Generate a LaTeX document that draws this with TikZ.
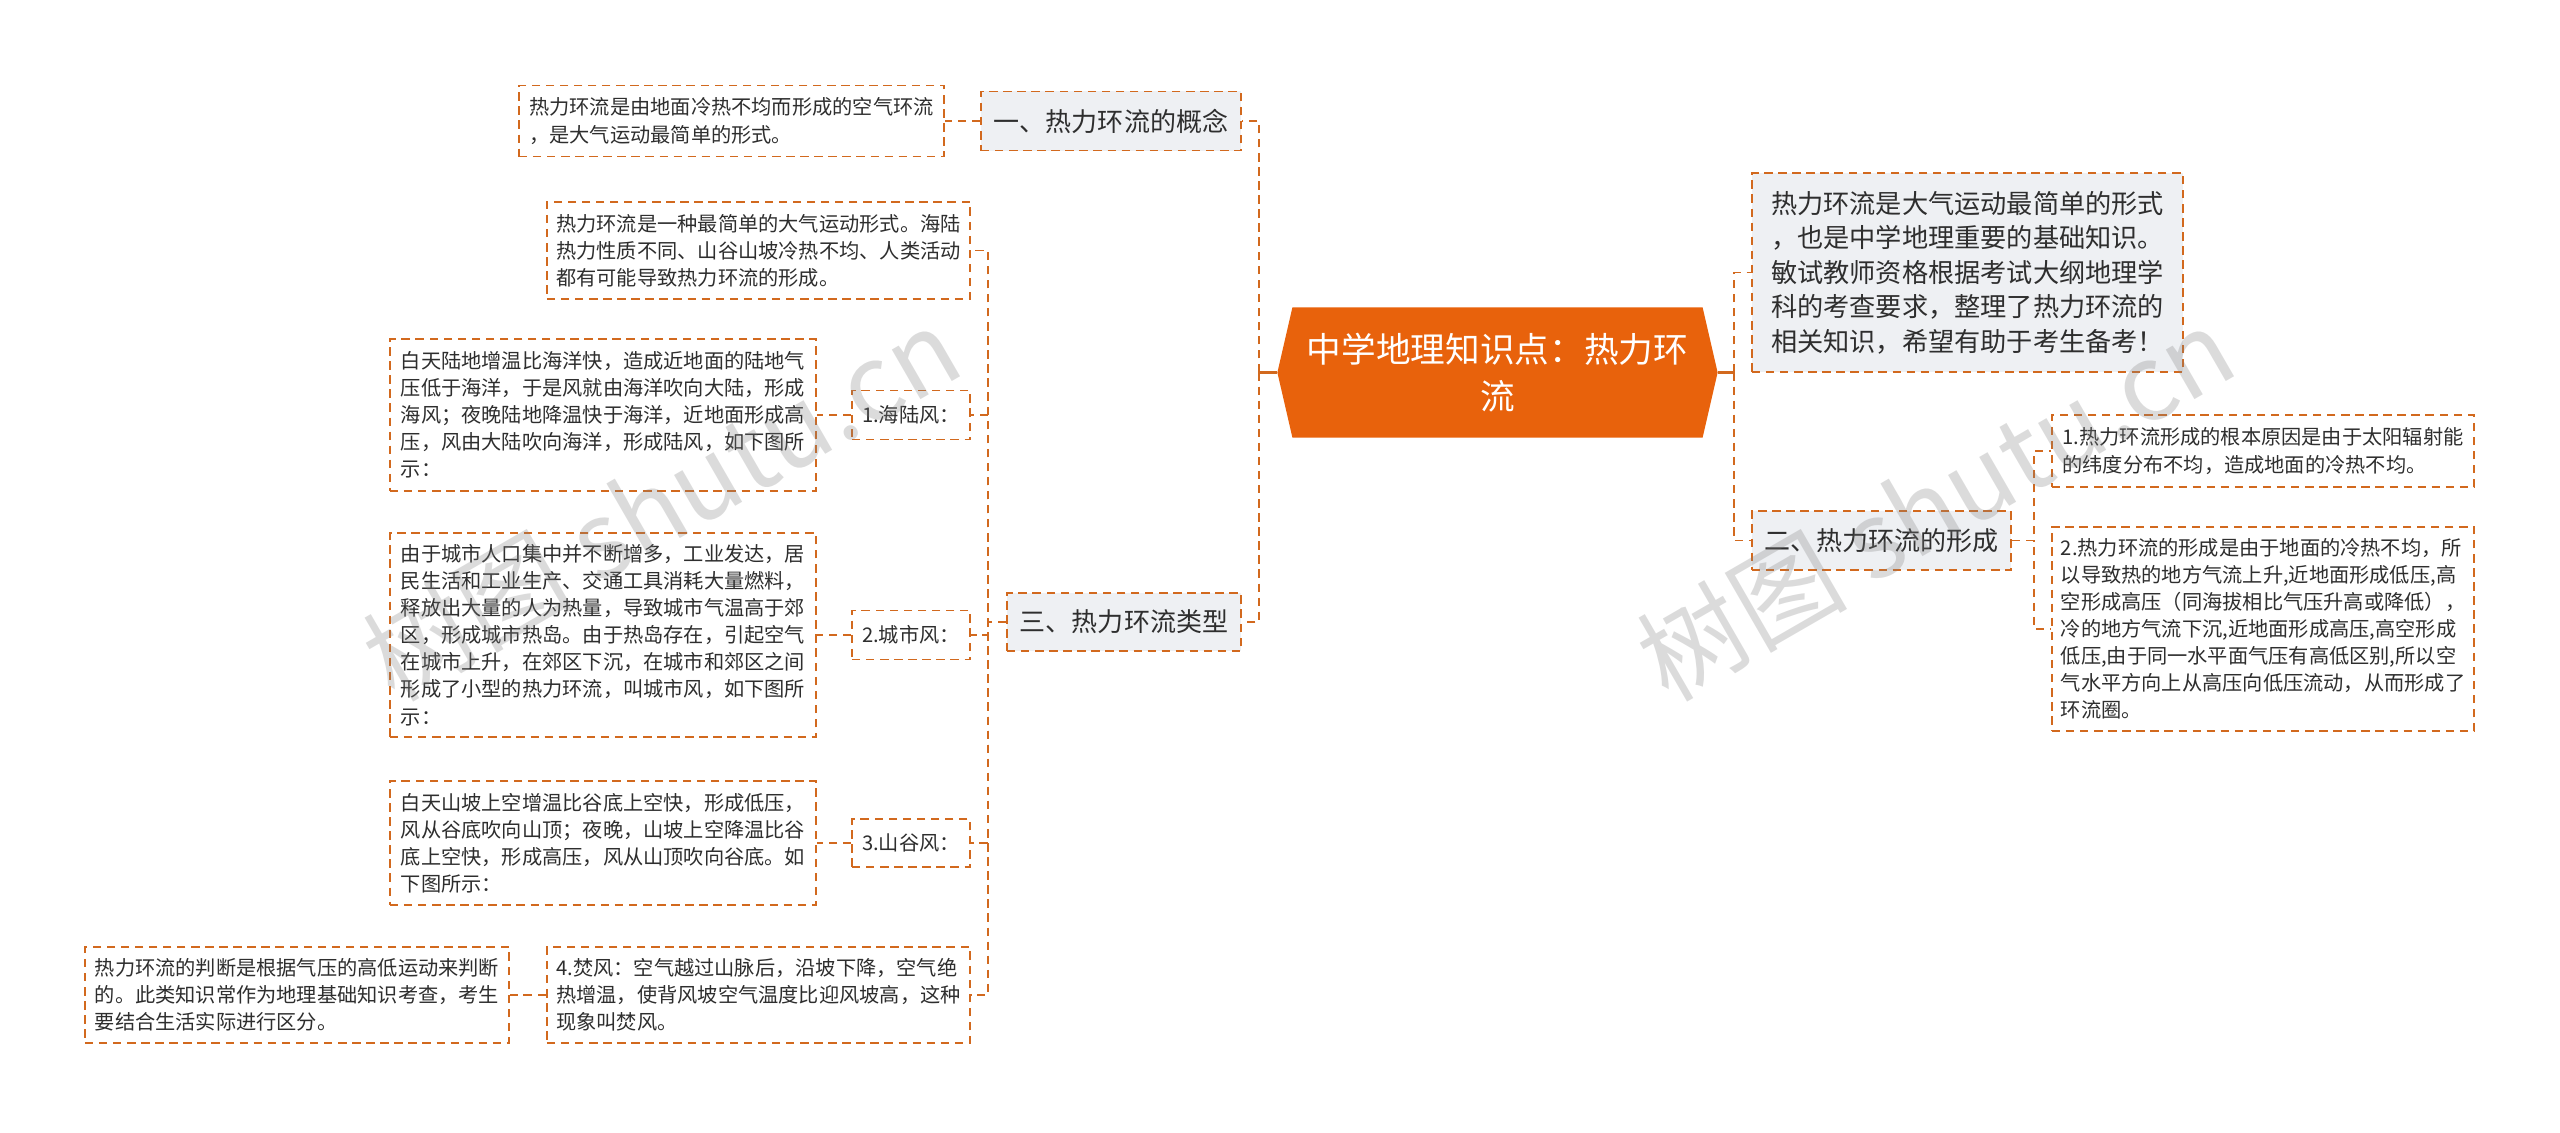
\documentclass[tikz,border=0pt]{standalone}
\usepackage{fontspec}
\setmainfont{Noto Sans CJK SC}
\usetikzlibrary{shapes.symbols}
\definecolor{linkorange}{HTML}{D2691E}
\definecolor{rootorange}{HTML}{E8620C}
\definecolor{branchgray}{HTML}{EEF0F3}
\definecolor{textgray}{HTML}{2E2E2E}

\begin{document}
\begin{tikzpicture}[x=0.01cm, y=-0.01cm,
    box/.style={draw=linkorange, line width=0.5pt, dash pattern=on 2.4pt off 1.6pt,
      text=textgray, inner sep=0pt},
    leaf/.style={box, fill=white, align=left, font=\fontsize{5.75}{7.7}\selectfont},
    branch/.style={box, fill=branchgray, align=center, font=\fontsize{7.4}{9}\selectfont},
    link/.style={draw=linkorange, line width=0.5pt, dash pattern=on 2.4pt off 1.6pt},
    stub/.style={draw=linkorange, line width=0.6pt}]
  % Background
  \fill[white] (0, 0) rectangle (2560, 1132);
  \useasboundingbox (0, 0) rectangle (2560, 1132);

  % Root
  \node[shape=signal, signal to=west and east, signal pointer angle=154,
    fill=rootorange, text=white, align=center, inner sep=0pt,
    minimum width=4.40cm, minimum height=1.30cm,
    font=\fontsize{9.85}{13.5}\selectfont]
    (root) at (1497.5, 372.5) {中学地理知识点：热力环\\流};

  % Left side
  \node[branch, minimum width=2.60cm, minimum height=0.59cm]
    (concept) at (1111, 121) {一、热力环流的概念};
  \node[leaf, minimum width=4.25cm, minimum height=0.71cm]
    (conceptText) at (731.5, 121) {热力环流是由地面冷热不均而形成的空气环流\\，是大气运动最简单的形式。};

  \node[branch, minimum width=2.34cm, minimum height=0.58cm]
    (types) at (1124, 622) {三、热力环流类型};
  \node[leaf, minimum width=4.23cm, minimum height=0.97cm]
    (typesText) at (758.5, 250.5) {热力环流是一种最简单的大气运动形式。海陆\\热力性质不同、山谷山坡冷热不均、人类活动\\都有可能导致热力环流的形成。};

  \node[leaf, minimum width=1.18cm, minimum height=0.49cm, align=center]
    (seaLand) at (911, 415) {1.海陆风：};
  \node[leaf, minimum width=4.26cm, minimum height=1.52cm]
    (seaLandText) at (603, 415) {白天陆地增温比海洋快，造成近地面的陆地气\\压低于海洋，于是风就由海洋吹向大陆，形成\\海风；夜晚陆地降温快于海洋，近地面形成高\\压，风由大陆吹向海洋，形成陆风，如下图所\\示：};

  \node[leaf, minimum width=1.18cm, minimum height=0.49cm, align=center]
    (city) at (911, 635) {2.城市风：};
  \node[leaf, minimum width=4.26cm, minimum height=2.04cm]
    (cityText) at (603, 635) {由于城市人口集中并不断增多，工业发达，居\\民生活和工业生产、交通工具消耗大量燃料，\\释放出大量的人为热量，导致城市气温高于郊\\区，形成城市热岛。由于热岛存在，引起空气\\在城市上升，在郊区下沉，在城市和郊区之间\\形成了小型的热力环流，叫城市风，如下图所\\示：};

  \node[leaf, minimum width=1.18cm, minimum height=0.48cm, align=center]
    (valley) at (911, 843) {3.山谷风：};
  \node[leaf, minimum width=4.26cm, minimum height=1.24cm]
    (valleyText) at (603, 843) {白天山坡上空增温比谷底上空快，形成低压，\\风从谷底吹向山顶；夜晚，山坡上空降温比谷\\底上空快，形成高压，风从山顶吹向谷底。如\\下图所示：};

  \node[leaf, minimum width=4.23cm, minimum height=0.96cm]
    (foehn) at (758.5, 995) {4.焚风：空气越过山脉后，沿坡下降，空气绝\\热增温，使背风坡空气温度比迎风坡高，这种\\现象叫焚风。};
  \node[leaf, minimum width=4.24cm, minimum height=0.96cm]
    (judge) at (297, 995) {热力环流的判断是根据气压的高低运动来判断\\的。此类知识常作为地理基础知识考查，考生\\要结合生活实际进行区分。};

  % Right side
  \node[box, fill=branchgray, align=left, minimum width=4.31cm, minimum height=1.99cm,
    font=\fontsize{7.45}{9.8}\selectfont]
    (intro) at (1967.5, 272.5) {热力环流是大气运动最简单的形式\\，也是中学地理重要的基础知识。\\敏试教师资格根据考试大纲地理学\\科的考查要求，整理了热力环流的\\相关知识，希望有助于考生备考！};

  \node[branch, minimum width=2.59cm, minimum height=0.59cm]
    (forming) at (1881.5, 540.5) {二、热力环流的形成};
  \node[leaf, minimum width=4.22cm, minimum height=0.72cm]
    (cause) at (2263, 451) {1.热力环流形成的根本原因是由于太阳辐射能\\的纬度分布不均，造成地面的冷热不均。};
  \node[leaf, minimum width=4.22cm, minimum height=2.04cm]
    (process) at (2263, 629) {2.热力环流的形成是由于地面的冷热不均，所\\以导致热的地方气流上升,近地面形成低压,高\\空形成高压（同海拔相比气压升高或降低），\\冷的地方气流下沉,近地面形成高压,高空形成\\低压,由于同一水平面气压有高低区别,所以空\\气水平方向上从高压向低压流动，从而形成了\\环流圈。};

  % Connectors
  \coordinate (leftTrunk) at (1259, 372.5);
  \coordinate (rightTrunk) at (1734, 372.5);
  \draw[stub] (root.west) -- (leftTrunk);
  \draw[stub] (root.east) -- (rightTrunk);
  \draw[link] (leftTrunk) |- (concept.east);
  \draw[link] (leftTrunk) |- (types.east);
  \draw[link] (rightTrunk) |- (intro.west);
  \draw[link] (rightTrunk) |- (forming.west);

  \draw[link] (concept.west) -- (conceptText.east);

  \draw[link] (types.west) -- ++(-18, 0) |- (typesText.east);
  \draw[link] (types.west) -- ++(-18, 0) |- (seaLand.east);
  \draw[link] (types.west) -- ++(-18, 0) |- (city.east);
  \draw[link] (types.west) -- ++(-18, 0) |- (valley.east);
  \draw[link] (types.west) -- ++(-18, 0) |- (foehn.east);
  \draw[link] (seaLand.west) -- (seaLandText.east);
  \draw[link] (city.west) -- (cityText.east);
  \draw[link] (valley.west) -- (valleyText.east);
  \draw[link] (foehn.west) -- (judge.east);

  \draw[link] (forming.east) -- ++(22, 0) |- (cause.west);
  \draw[link] (forming.east) -- ++(22, 0) |- (process.west);

  % Watermarks
  \node[rotate=30, text=gray, opacity=0.28, font=\fontsize{30}{34}\selectfont]
    (markLeft) at (661, 503) {树图 shutu.cn};
  \node[rotate=30, text=gray, opacity=0.28, font=\fontsize{30}{34}\selectfont]
    (markRight) at (1935, 503) {树图 shutu.cn};

\end{tikzpicture}
\end{document}
